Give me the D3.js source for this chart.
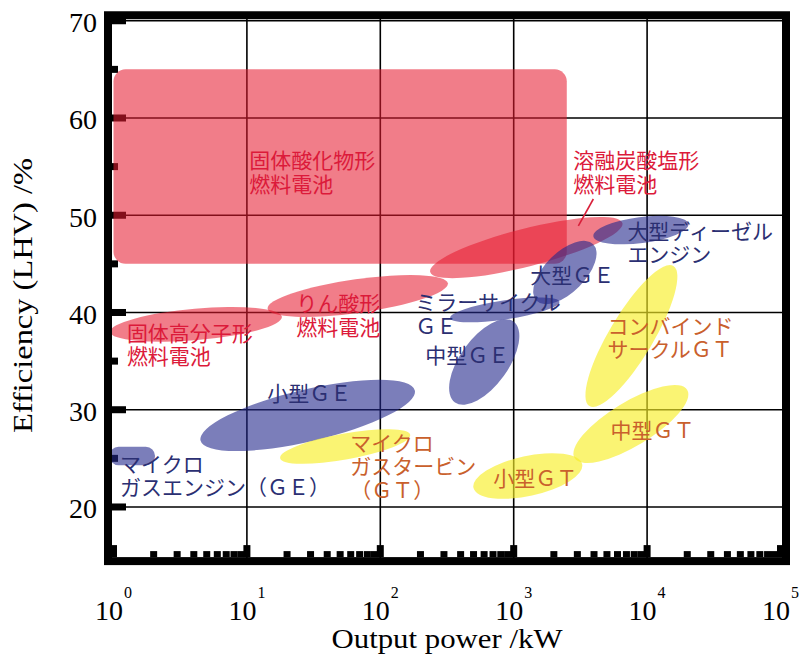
<!DOCTYPE html>
<html><head><meta charset="utf-8">
<script src="https://cdn.jsdelivr.net/npm/d3@7"></script>
<style>body{margin:0;background:#fff}</style>
</head><body>
<svg id="c" width="802" height="655"></svg>
<script>
// ---------- data ----------
const xDecades = [1, 10, 100, 1000, 10000, 100000];
const xExponents = ["0", "1", "2", "3", "4", "5"];
const yMajor = [20, 30, 40, 50, 60, 70];
const yMinor = [25, 35, 45, 55, 65];

// SOFC block: [kW min, kW max, % min, % max]
const sofcBlock = [1, 2500, 45, 65];
// micro gas engine pill: [kW min, kW max, % min, % max]
const microGEBlock = [0.93, 2.05, 24.3, 26.2];

// ellipses: long-axis ends [kW1, %1, kW2, %2, half width in %]
const redEllipses = [
  [0.946, 38.0, 18.3, 39.55, 1.62],    // PEFC
  [14.3, 40.39, 321, 43.0, 1.73],      // PAFC
  [236.6, 44.16, 6531, 49.2, 1.95]     // MCFC
];
const blueEllipses = [
  [1483, 41.2, 3945, 47.02, 2.06],     // large GE
  [3955, 47.85, 20400, 49.1, 1.34],    // large diesel
  [334, 39.43, 2200, 41.1, 0.98],      // Miller cycle GE
  [363, 30.75, 996, 39.07, 2.47],      // medium GE
  [4.49, 26.83, 181.5, 31.99, 2.67]    // small GE
];
const yellowEllipses = [
  [3698, 30.38, 15730, 44.79, 2.26],   // combined cycle GT
  [2858, 25.03, 20000, 32.04, 2.26],   // medium GT
  [499, 21.97, 3260, 24.4, 2.06],      // small GT
  [17.75, 25.02, 167.6, 27.42, 1.34]   // micro GT
];

const redLabels = [["固体酸化物形", "燃料電池"], ["溶融炭酸塩形", "燃料電池"], ["固体高分子形", "燃料電池"], ["りん酸形", "燃料電池"]];
const redLabelPos = [[10.4, 54.55], [2800, 54.55], [1.26, 36.86], [23.4, 39.85]];
const blueLabels = [["大型ディーゼル", "エンジン"], ["大型ＧＥ"], ["ミラーサイクル", "ＧＥ"], ["中型ＧＥ"], ["小型ＧＥ"], ["マイクロ", "ガスエンジン（ＧＥ）"]];
const blueLabelPos = [[7115, 47.35], [1333, 42.73], [183, 39.95], [217, 34.5], [14.2, 30.59], [1.12, 23.39]];
const orangeLabels = [["コンバインド", "サークルＧＴ"], ["中型ＧＴ"], ["小型ＧＴ"], ["マイクロ", "ガスタービン", "（ＧＴ）"]];
const orangeLabelPos = [[5040, 37.58], [5310, 26.79], [702, 21.85], [59.5, 25.55]];
const leaderLine = [3955, 51.67, 3052, 48.9];

const xTitle = "Output power /kW";
const yTitle = "Efficiency (LHV) /%";

// ---------- layout ----------
const svg = d3.select("#c");
const x = d3.scaleLog().domain([1, 1e5]).range([113.5, 780.5]);
const y = d3.scaleLinear().domain([15, 70]).range([555.6, 20.75]);
const pad = 5.5, borderW = 8;
const serif = "'Liberation Serif','Times New Roman',serif";
const jp = "'Liberation Serif','Noto Sans CJK JP','Noto Sans CJK SC',sans-serif";

const bLeft = x.range()[0] - pad, bRight = x.range()[1] + pad;
const bTop = y.range()[1] - pad, bBottom = y.range()[0] + pad;

svg.append("clipPath").attr("id", "clip").append("rect")
  .attr("x", bLeft + borderW / 2).attr("y", bTop + borderW / 2)
  .attr("width", bRight - bLeft - borderW).attr("height", bBottom - bTop - borderW);

// gridlines
const grid = svg.append("g").attr("stroke", "#000").attr("stroke-width", 1.6);
grid.selectAll("line.v").data(xDecades.slice(1, -1)).join("line")
  .attr("x1", d => x(d)).attr("x2", d => x(d)).attr("y1", bTop).attr("y2", bBottom);
grid.selectAll("line.h").data(yMajor).join("line")
  .attr("y1", d => y(d)).attr("y2", d => y(d)).attr("x1", bLeft).attr("x2", bRight);

// ticks (inside)
const tk = svg.append("g").attr("fill", "#000");
const inL = bLeft + borderW / 2, inB = bBottom - borderW / 2;
tk.selectAll("rect.ym").data(yMajor).join("rect")
  .attr("x", inL).attr("y", d => y(d) - 3.5).attr("width", 14).attr("height", 7);
tk.selectAll("rect.yn").data(yMinor).join("rect")
  .attr("x", inL).attr("y", d => y(d) - 3.5).attr("width", 6).attr("height", 7);
const xt = x.ticks();
tk.selectAll("rect.xt").data(xt).join("rect")
  .attr("x", d => x(d) - 3.5).attr("width", 7)
  .attr("y", d => xDecades.includes(d) ? inB - 12 : inB - 6)
  .attr("height", d => xDecades.includes(d) ? 12 : 6);

// shapes
const shapes = svg.append("g").attr("clip-path", "url(#clip)");
const RED = "#e61a30", BLUE = "#23288c", YEL = "#f8ee28";
shapes.append("rect")
  .attr("x", x(sofcBlock[0])).attr("y", y(sofcBlock[3]))
  .attr("width", x(sofcBlock[1]) - x(sofcBlock[0]))
  .attr("height", y(sofcBlock[2]) - y(sofcBlock[3]))
  .attr("rx", 12).attr("fill", RED).attr("fill-opacity", 0.57);

function drawEllipses(data, color, op) {
  shapes.append("g").selectAll("ellipse").data(data).join("ellipse")
    .each(function (d) {
      const [a1, b1, a2, b2, hw] = d;
      const px1 = x(a1), py1 = y(b1), px2 = x(a2), py2 = y(b2);
      const cx = (px1 + px2) / 2, cy = (py1 + py2) / 2;
      const rx = Math.hypot(px2 - px1, py2 - py1) / 2;
      const ry = y(0) - y(hw);
      const ang = Math.atan2(py2 - py1, px2 - px1) * 180 / Math.PI;
      d3.select(this).attr("cx", cx).attr("cy", cy).attr("rx", rx).attr("ry", ry)
        .attr("transform", `rotate(${ang},${cx},${cy})`);
    })
    .attr("fill", color).attr("fill-opacity", op);
}
drawEllipses(redEllipses, RED, 0.57);
shapes.append("rect")
  .attr("x", x(microGEBlock[0])).attr("y", y(microGEBlock[3]))
  .attr("width", x(microGEBlock[1]) - x(microGEBlock[0]))
  .attr("height", y(microGEBlock[2]) - y(microGEBlock[3]))
  .attr("rx", (y(microGEBlock[2]) - y(microGEBlock[3])) / 2)
  .attr("fill", BLUE).attr("fill-opacity", 0.6);
drawEllipses(blueEllipses, BLUE, 0.6);
drawEllipses(yellowEllipses, YEL, 0.65);

// leader line
svg.append("line")
  .attr("x1", x(leaderLine[0])).attr("y1", y(leaderLine[1]))
  .attr("x2", x(leaderLine[2])).attr("y2", y(leaderLine[3]))
  .attr("stroke", "#d8203a").attr("stroke-width", 1.6);

// labels (one text element per line)
function drawLabels(texts, pos, color) {
  const g = svg.append("g").attr("fill", color).attr("font-family", jp).attr("font-size", 21);
  texts.forEach((lines, i) => {
    lines.forEach((s, j) => {
      g.append("text").attr("x", x(pos[i][0]))
        .attr("y", y(pos[i][1]) - 2.5 + j * 23.5).text(s);
    });
  });
}
drawLabels(redLabels, redLabelPos, "#dc1a3a");
drawLabels(blueLabels, blueLabelPos, "#2b2f72");
drawLabels(orangeLabels, orangeLabelPos, "#c9602c");

// border
svg.append("rect").attr("x", bLeft).attr("y", bTop)
  .attr("width", bRight - bLeft).attr("height", bBottom - bTop)
  .attr("fill", "none").attr("stroke", "#000").attr("stroke-width", borderW);

// y tick labels
svg.append("g").selectAll("text").data(yMajor).join("text")
  .attr("x", 97).attr("y", d => y(d) + 11.5)
  .attr("text-anchor", "end").attr("font-family", serif).attr("font-size", 28)
  .text(d => d);

// x tick labels
const xl = svg.append("g").attr("font-family", serif).attr("font-size", 28);
xDecades.forEach((d, i) => {
  const t = xl.append("text").attr("x", x(d)).attr("y", 620).attr("text-anchor", "middle");
  t.append("tspan").text("10");
  t.append("tspan").attr("dy", -22).attr("dx", 1).attr("font-size", 16).text(xExponents[i]);
});

// axis titles
svg.append("text").attr("x", (x.range()[0] + x.range()[1]) / 2).attr("y", 648)
  .attr("text-anchor", "middle").attr("font-family", serif).attr("font-size", 27)
  .attr("textLength", 231).attr("lengthAdjust", "spacingAndGlyphs").text(xTitle);
svg.append("text").attr("transform", "translate(32,295.5) rotate(-90)")
  .attr("text-anchor", "middle").attr("font-family", serif).attr("font-size", 27)
  .attr("textLength", 275).attr("lengthAdjust", "spacingAndGlyphs").text(yTitle);
</script>
</body></html>
